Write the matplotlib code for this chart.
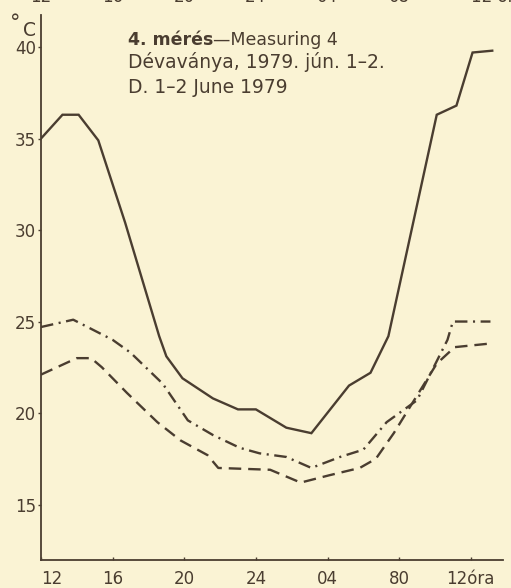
import matplotlib
matplotlib.use("Agg")
import matplotlib.pyplot as plt

# hours since noon of day 1 (12 -> 36 = noon of day 2), temperatures in °C
hours_solid = [12, 13.2, 14.1, 15.2, 16.7, 18.6, 19.0, 19.9, 21.6, 23.0, 24.0, 25.7,
               27.1, 29.2, 30.4, 31.4, 34.1, 35.2, 36.1, 37.2]
temp_solid = [35.0, 36.3, 36.3, 34.9, 30.4, 24.2, 23.1, 21.9, 20.8, 20.2, 20.2, 19.2,
              18.9, 21.5, 22.2, 24.2, 36.3, 36.8, 39.7, 39.8]

hours_dashdot = [12, 13.8, 16.0, 17.0, 18.8, 20.2, 21.6, 23.1, 24.2, 25.7, 27.1, 28.7,
                 30.0, 31.3, 33.0, 34.7, 35.0, 37.1]
temp_dashdot = [24.7, 25.1, 24.0, 23.3, 21.6, 19.6, 18.8, 18.1, 17.8, 17.6, 17.0, 17.6,
                18.0, 19.5, 20.7, 24.0, 25.0, 25.0]

hours_dashed = [12, 14.0, 14.8, 15.4, 16.8, 18.5, 19.8, 21.3, 21.9, 24.8, 26.5, 28.1,
                29.8, 30.7, 31.7, 34.1, 35.1, 37.1]
temp_dashed = [22.1, 23.0, 23.0, 22.5, 21.1, 19.5, 18.5, 17.7, 17.0, 16.9, 16.2, 16.6,
               17.0, 17.5, 18.9, 22.7, 23.6, 23.8]

tick_pos = [12, 16, 20, 24, 28, 32, 36]
tick_labels = ["12", "16", "20", "24", "04", "80", "12óra"]
prev_labels = ["12", "16", "20", "24", "04", "08", "12 óra"]
y_ticks = [15, 20, 25, 30, 35, 40]

bg = "#faf3d4"
ink = "#4a3d30"

plt.rcParams["font.family"] = ["DejaVu Sans"]
plt.rcParams["lines.scale_dashes"] = False

fig = plt.figure(figsize=(5.11, 5.88), dpi=100, facecolor=bg)
ax = fig.add_axes([41 / 511, 28 / 588, 462 / 511, 545 / 588], facecolor=bg)

ax.plot(hours_solid, temp_solid, color=ink, lw=1.7, solid_joinstyle="miter")
ax.plot(hours_dashdot, temp_dashdot, color=ink, lw=1.7, dashes=(9, 4, 1.5, 4))
ax.plot(hours_dashed, temp_dashed, color=ink, lw=1.7, dashes=(9, 5))

ax.set_xlim(12, 37.8)
ax.set_ylim(11.97, 41.75)
for s in ["top", "right"]:
    ax.spines[s].set_visible(False)
for s in ["left", "bottom"]:
    ax.spines[s].set_color(ink)
    ax.spines[s].set_linewidth(1.3)

ax.set_xticks(tick_pos)
ax.set_xticklabels(tick_labels)
ax.set_yticks(y_ticks)
ax.tick_params(axis="x", direction="in", length=2.5, width=1, colors=ink,
               labelsize=12, pad=7)
ax.tick_params(axis="y", direction="out", length=2.5, width=1, colors=ink,
               labelsize=12, pad=1)
xl = ax.get_xticklabels()
xl[0].set_ha("left")

# unit label: raised degree sign and C
fig.text(10 / 511, 1 - 29 / 588, "°", ha="left", va="baseline", fontsize=15, color=ink)
fig.text(36 / 511, 1 - 36 / 588, "C", ha="right", va="baseline", fontsize=13.5, color=ink)

# cut-off axis labels of the chart above (only their lower edge shows)
for h, lab in zip(tick_pos, prev_labels):
    fx = (41 + (h - 12) * 17.9) / 511
    fig.text(fx, 1 - 2 / 588, lab, ha="center" if h < 36 else "left", va="baseline",
             fontsize=12, color=ink)

t1 = fig.text(128 / 511, 1 - 45 / 588, "4. mérés", fontsize=12.5, fontweight="bold",
              color=ink, va="baseline")
ax.annotate("—Measuring 4", xy=(1, 0), xycoords=t1, va="bottom", ha="left",
            fontsize=12.5, color=ink, annotation_clip=False)
fig.text(128 / 511, 1 - 68 / 588, "Dévaványa, 1979. jún. 1–2.", fontsize=13.5,
         color=ink, va="baseline")
fig.text(128 / 511, 1 - 93 / 588, "D. 1–2 June 1979", fontsize=13.5, color=ink,
         va="baseline")

fig.savefig("out.png", dpi=100, facecolor=bg)
